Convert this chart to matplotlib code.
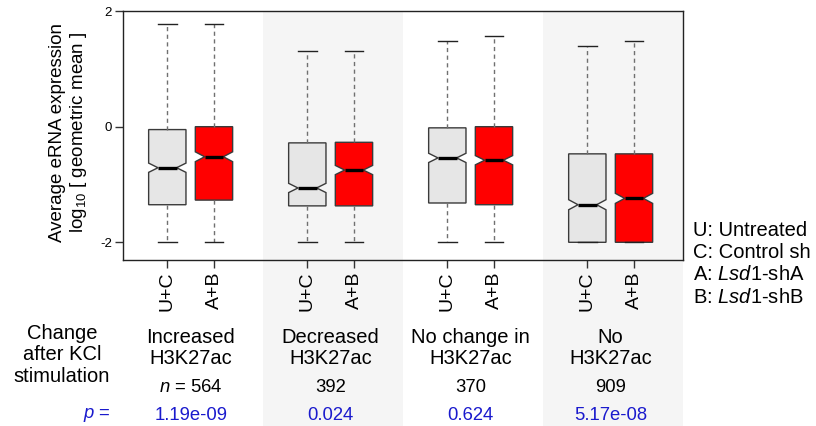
import matplotlib
matplotlib.use("Agg")
import matplotlib.pyplot as plt
from matplotlib.patches import Rectangle
from matplotlib.transforms import blended_transform_factory

plt.rcParams['font.family'] = ['Liberation Sans', 'DejaVu Sans']
plt.rcParams['mathtext.fontset'] = 'custom'
plt.rcParams['mathtext.rm'] = 'Liberation Sans'
plt.rcParams['mathtext.it'] = 'Liberation Sans:italic'

# -----------------------------
# Data
# -----------------------------
groups = ["Increased\nH3K27ac", "Decreased\nH3K27ac",
          "No change in\nH3K27ac", "No\nH3K27ac"]
n_counts = ["$n$ = 564", "392", "370", "909"]
p_values = ["1.19e-09", "0.024", "0.624", "5.17e-08"]
box_labels = ["U+C", "A+B"]

# U+C (untreated + control sh)
uc_whislo = [-2.0, -2.0, -2.0, -2.0]
uc_q1 = [-1.35, -1.37, -1.32, -2.0]
uc_med = [-0.71, -1.06, -0.54, -1.35]
uc_q3 = [-0.05, -0.28, -0.02, -0.47]
uc_whishi = [1.77, 1.31, 1.48, 1.40]
uc_notch = [0.08, 0.08, 0.08, 0.087]

# A+B (Lsd1-shA + Lsd1-shB)
ab_whislo = [-2.0, -2.0, -2.0, -2.0]
ab_q1 = [-1.27, -1.37, -1.35, -2.0]
ab_med = [-0.52, -0.75, -0.58, -1.24]
ab_q3 = [0.0, -0.27, 0.0, -0.47]
ab_whishi = [1.78, 1.31, 1.57, 1.48]
ab_notch = [0.085, 0.08, 0.08, 0.087]

legend_lines = ["U: Untreated", "C: Control sh",
                "A: $\\it{Lsd1}$-shA", "B: $\\it{Lsd1}$-shB"]

# -----------------------------
# Build box stats
# -----------------------------
stats = []
positions = []
colors = []
for i in range(len(groups)):
    for lo, q1, med, q3, hi, nt, pos, col in [
        (uc_whislo[i], uc_q1[i], uc_med[i], uc_q3[i], uc_whishi[i], uc_notch[i], 3 * i + 1, "#e6e6e6"),
        (ab_whislo[i], ab_q1[i], ab_med[i], ab_q3[i], ab_whishi[i], ab_notch[i], 3 * i + 2, "#ff0000"),
    ]:
        stats.append(dict(whislo=lo, q1=q1, med=med, q3=q3, whishi=hi,
                          cilo=med - nt, cihi=med + nt, fliers=[]))
        positions.append(pos)
        colors.append(col)

# -----------------------------
# Plot
# -----------------------------
fig = plt.figure(figsize=(8.16, 4.26), dpi=100)
ax = fig.add_axes([0.1507, 0.3897, 0.6863, 0.5843])

x0, x1 = 0.05, 12.05
ax.set_xlim(x0, x1)
ax.set_ylim(-2.306, 2)

# shaded columns for groups 2 and 4 (extend below the axes)
trans_ax = blended_transform_factory(ax.transData, ax.transAxes)
for k in [1, 3]:
    ax.add_patch(Rectangle((x0 + 3 * k, -0.67), 3, 1.67, transform=trans_ax,
                           facecolor="#f5f5f5", edgecolor="none",
                           clip_on=False, zorder=0))

bp = ax.bxp(stats, positions=positions, widths=0.8, shownotches=True,
            patch_artist=True, showfliers=False,
            boxprops=dict(edgecolor="#3a3a3a", linewidth=1),
            medianprops=dict(color="black", linewidth=2.4),
            whiskerprops=dict(color="#707070", linewidth=1, linestyle=(0, (3, 2.5))),
            capprops=dict(color="#222222", linewidth=1))
for patch, col in zip(bp["boxes"], colors):
    patch.set_facecolor(col)
    patch.set_zorder(2)

ax.set_yticks([-2, 0, 2])
ax.set_yticklabels(["-2", "0", "2"], fontsize=9.5)
ax.set_xticks(positions)
ax.set_xticklabels(box_labels * len(groups), rotation=90, fontsize=14)
ax.tick_params(axis="both", length=5.5, width=1, color="#333333", pad=2.5)
for s in ax.spines.values():
    s.set_linewidth(1)
    s.set_color("#222222")

fig.text(0.0846, 0.69,
         "Average eRNA expression\nlog$_{10}$ [ geometric mean ]",
         rotation=90, ha="center", va="center", fontsize=13.5,
         multialignment="center", linespacing=1.08)

# -----------------------------
# Annotations below the axes
# -----------------------------
trans_fig = blended_transform_factory(ax.transData, fig.transFigure)
for i in range(len(groups)):
    cx = 3 * i + 1.5
    ax.text(cx, 1 - 348 / 426, groups[i], transform=trans_fig, ha="center",
            va="center", fontsize=14.5, linespacing=1.15)
    ax.text(cx, 1 - 388 / 426, n_counts[i], transform=trans_fig,
            ha="center", va="center", fontsize=13.3)
    ax.text(cx, 1 - 415 / 426, p_values[i], transform=trans_fig,
            ha="center", va="center", fontsize=13.3, color="#1a1acd")

fig.text(62 / 816, 1 - 355 / 426, "Change\nafter KCl\nstimulation",
         ha="center", va="center", fontsize=14.5, linespacing=1.15)
fig.text(111 / 816, 1 - 415 / 426, "$p$ =", ha="right", va="center",
         fontsize=13.3, color="#1a1acd")

for j, line in enumerate(legend_lines):
    fig.text(693 / 816, 1 - (230 + 22.5 * j) / 426, line, ha="left",
             va="center", fontsize=14.5)

fig.savefig("out.png", dpi=100)
